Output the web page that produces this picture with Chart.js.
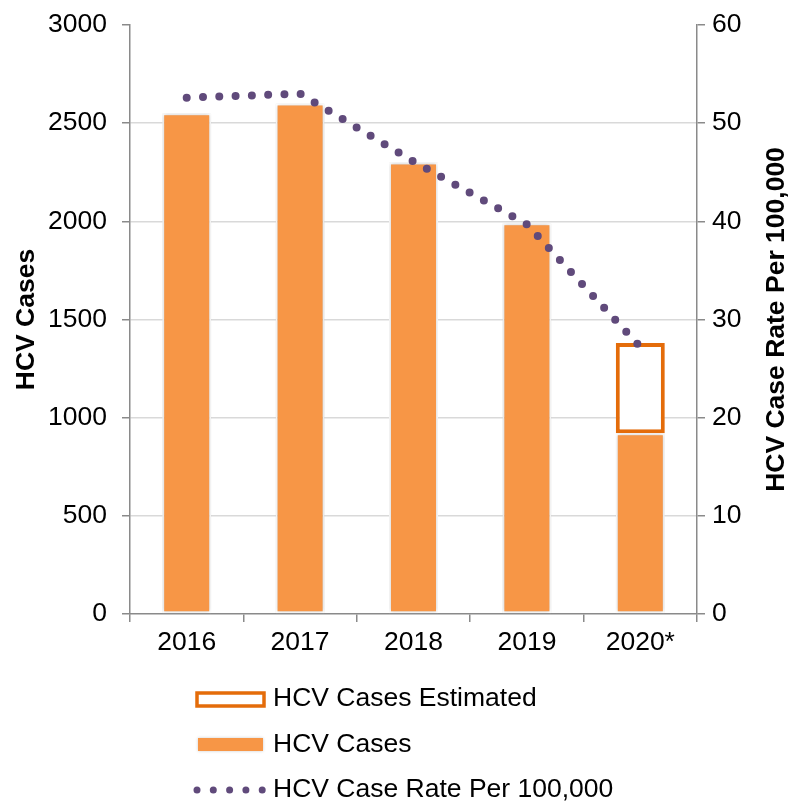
<!DOCTYPE html>
<html>
<head>
<meta charset="utf-8">
<script src="https://cdn.jsdelivr.net/npm/chart.js@4.4.1/dist/chart.umd.min.js"></script>
<style>
  html, body { margin: 0; padding: 0; background: #fff; }
  #wrap { width: 792px; height: 802px; }
</style>
</head>
<body>
<div id="wrap"><canvas id="c" width="792" height="802"></canvas></div>
<script>
/* ── Data ─────────────────────────────────────────────── */
const years = ["2016", "2017", "2018", "2019", "2020*"];
const hcvCases = [2550, 2600, 2300, 1990, 920];
const hcvEstimated = [null, null, null, null, 460];   // stacked on top of 2020 cases
const hcvRate = [52.6, 53.0, 46.1, 39.7, 27.2];

const legendLabels = ["HCV Cases Estimated", "HCV Cases", "HCV Case Rate Per 100,000"];
const leftTitle = "HCV Cases";
const rightTitle = "HCV Case Rate Per 100,000";

/* ── Styling ──────────────────────────────────────────── */
const FONT = "'Liberation Sans', Arial, sans-serif";
const FONT_SIZE = 26.5;
const ORANGE = "#F79646";
const ORANGE_DARK = "#E46C0A";
const PURPLE = "#604A7B";
const AXIS_GREY = "#8A8A8A";
const GRID_GREY = "#D9D9D9";

Chart.defaults.font.family = FONT;
Chart.defaults.font.size = FONT_SIZE;
Chart.defaults.color = "#000";

// fixed scale sizes so the plot area lands where the reference has it
function fixScale(size, dim) {
  return (s) => {
    s[dim] = size;
    s.paddingTop = 0;
    s.paddingBottom = 0;
    s.paddingLeft = 0;
    s.paddingRight = 0;
  };
}

// soft glow round the filled bars
const barShadow = {
  id: "barShadow",
  beforeDatasetDraw(chart, args) {
    if (args.index !== 1) return;
    const ctx = chart.ctx;
    ctx.save();
    ctx.shadowColor = "rgba(0,0,0,0.22)";
    ctx.shadowBlur = 4;
  },
  afterDatasetDraw(chart, args) {
    if (args.index !== 1) return;
    chart.ctx.restore();
  },
};

// right axis title reads bottom-to-top, like the left one
const rightAxisTitle = {
  id: "rightAxisTitle",
  afterDraw(chart) {
    const { ctx, chartArea } = chart;
    ctx.save();
    ctx.translate(777, (chartArea.top + chartArea.bottom) / 2);
    ctx.rotate(-Math.PI / 2);
    ctx.font = "bold " + FONT_SIZE + "px " + FONT;
    ctx.fillStyle = "#000";
    ctx.textAlign = "center";
    ctx.textBaseline = "middle";
    ctx.fillText(rightTitle, 0, 0);
    ctx.restore();
  },
};

// stacked legend under the chart
const stackedLegend = {
  id: "stackedLegend",
  afterDraw(chart) {
    const ctx = chart.ctx;
    ctx.save();
    ctx.font = FONT_SIZE + "px " + FONT;
    ctx.textBaseline = "middle";
    ctx.textAlign = "left";

    // estimated: outlined box
    ctx.fillStyle = "#fff";
    ctx.fillRect(197, 693, 67, 13);
    ctx.strokeStyle = ORANGE_DARK;
    ctx.lineWidth = 3.5;
    ctx.strokeRect(197, 693, 67, 13);

    // cases: filled box
    ctx.shadowColor = "rgba(0,0,0,0.2)";
    ctx.shadowBlur = 3;
    ctx.fillStyle = ORANGE;
    ctx.fillRect(198, 738, 65, 13);
    ctx.shadowBlur = 0;

    // rate: dots
    ctx.fillStyle = PURPLE;
    for (let i = 0; i < 5; i++) {
      ctx.beginPath();
      ctx.arc(197 + i * 16.3, 790, 3.5, 0, Math.PI * 2);
      ctx.fill();
    }

    ctx.fillStyle = "#000";
    ctx.fillText(legendLabels[0], 273, 699);
    ctx.fillText(legendLabels[1], 273, 745);
    ctx.fillText(legendLabels[2], 273, 790);
    ctx.restore();
  },
};

new Chart(document.getElementById("c"), {
  data: {
    labels: years,
    datasets: [
      {
        type: "line",
        label: legendLabels[2],
        data: hcvRate,
        yAxisID: "y1",
        borderColor: PURPLE,
        borderWidth: 8,
        borderDash: [0, 16.3],
        borderCapStyle: "round",
        pointRadius: 0,
        tension: 0,
        order: 0,
      },
      {
        type: "bar",
        label: legendLabels[1],
        data: hcvCases,
        yAxisID: "y",
        backgroundColor: ORANGE,
        borderColor: "#fff",
        borderWidth: 2,
        borderSkipped: false,
        barPercentage: 0.432,
        categoryPercentage: 1,
        order: 1,
      },
      {
        type: "bar",
        label: legendLabels[0],
        data: hcvEstimated,
        yAxisID: "y",
        backgroundColor: "#fff",
        borderColor: ORANGE_DARK,
        borderWidth: 4,
        borderSkipped: false,
        barPercentage: 0.432,
        categoryPercentage: 1,
        order: 2,
      },
    ],
  },
  options: {
    responsive: false,
    animation: false,
    layout: { padding: { top: 25, left: 0, right: 0, bottom: 0 } },
    plugins: { legend: { display: false }, tooltip: { enabled: false } },
    scales: {
      x: {
        stacked: true,
        offset: true,
        afterFit: fixScale(188, "height"),
        grid: {
          offset: true,
          drawOnChartArea: false,
          tickLength: 8,
          tickColor: AXIS_GREY,
          lineWidth: 1.5,
        },
        border: { color: AXIS_GREY, width: 1.5 },
        ticks: { padding: 5, color: "#000" },
      },
      y: {
        stacked: true,
        position: "left",
        min: 0,
        max: 3000,
        afterFit: fixScale(130, "width"),
        ticks: { stepSize: 500, padding: 15, color: "#000", callback: (v) => String(v) },
        grid: {
          color: (c) => (c.tick && (c.tick.value === 3000 || c.tick.value === 0) ? "rgba(0,0,0,0)" : GRID_GREY),
          tickColor: AXIS_GREY,
          tickLength: 8,
          lineWidth: 1.5,
        },
        border: { color: AXIS_GREY, width: 1.5 },
        title: {
          display: true,
          text: leftTitle,
          font: { weight: "bold", size: FONT_SIZE },
          color: "#000",
          padding: { top: 11, bottom: 0 },
        },
      },
      y1: {
        position: "right",
        min: 0,
        max: 60,
        afterFit: fixScale(95, "width"),
        ticks: { stepSize: 10, padding: 7, color: "#000" },
        grid: {
          drawOnChartArea: false,
          tickColor: AXIS_GREY,
          tickLength: 8,
          lineWidth: 1.5,
        },
        border: { color: AXIS_GREY, width: 1.5 },
      },
    },
  },
  plugins: [barShadow, rightAxisTitle, stackedLegend],
});
</script>
</body>
</html>
